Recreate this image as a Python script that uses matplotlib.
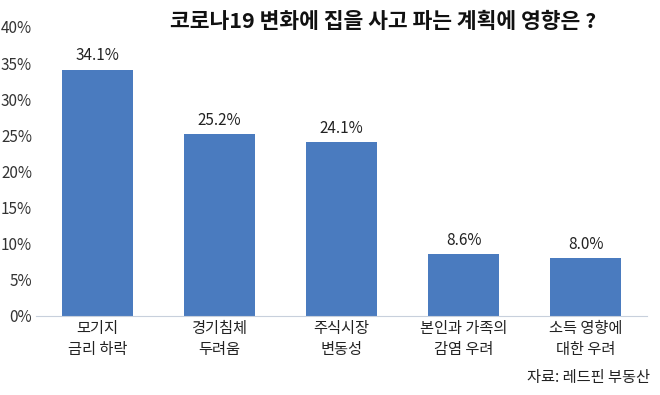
import matplotlib.pyplot as plt

plt.rcParams['font.family'] = ['Noto Sans CJK KR', 'DejaVu Sans']

categories = ["모기지\n금리 하락", "경기침체\n두려움", "주식시장\n변동성", "본인과 가족의\n감염 우려", "소득 영향에\n대한 우려"]
values = [34.1, 25.2, 24.1, 8.6, 8.0]
value_labels = ["34.1%", "25.2%", "24.1%", "8.6%", "8.0%"]
yticks = [0, 5, 10, 15, 20, 25, 30, 35, 40]

fig = plt.figure(figsize=(6.6, 3.95), dpi=100)
ax = fig.add_axes([0.055, 0.2, 0.925, 0.732])

x = range(len(categories))
ax.bar(x, values, width=0.58, color="#4a7bbf")
for i, v in enumerate(values):
    ax.text(i, v + 0.7, value_labels[i], ha="center", va="bottom", fontsize=11, color="#222222")

ax.set_ylim(0, 40)
ax.set_xlim(-0.5, 4.5)
ax.set_yticks(yticks)
ax.set_yticklabels([f"{t}%" for t in yticks], fontsize=11, color="#333333")
ax.set_xticks(list(x))
ax.set_xticklabels(categories, fontsize=11, color="#222222", linespacing=1.3)
ax.tick_params(length=0, pad=3)
for s in ["top", "right", "left"]:
    ax.spines[s].set_visible(False)
ax.spines["bottom"].set_color("#c8d0dc")

fig.text(0.58, 0.945, "코로나19 변화에 집을 사고 파는 계획에 영향은 ?", ha="center", va="center",
         fontsize=15.5, fontweight="bold", color="#111111")
fig.text(0.985, 0.045, "자료: 레드핀 부동산", ha="right", va="center", fontsize=11, color="#222222")

fig.savefig("out.png", dpi=100)
